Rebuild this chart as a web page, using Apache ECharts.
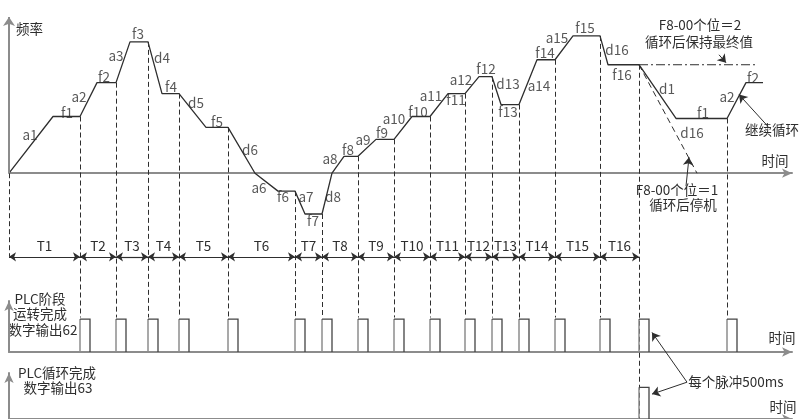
<!DOCTYPE html>
<html><head><meta charset="utf-8">
<script src="https://cdn.jsdelivr.net/npm/echarts@6/dist/echarts.min.js"></script>
<style>html,body{margin:0;padding:0;background:#fff}#c{width:801px;height:419px}</style>
</head><body><div id="c"></div>
<script>
// ---- data (time and frequency in relative units; negative frequency = reverse run) ----
const stageNames    = ['1','2','3','4','5','6','7','8','9','10','11','12','13','14','15','16'];
const stageFreq     = [57, 91, 132, 80, 46, -18, -41, 17, 34, 57, 80, 97, 69, 114, 138, 109];
const plateauStart  = [44, 88, 121, 153, 197, 269, 296, 335, 367, 403, 439, 470, 492, 528, 564, 599];
const stageEnd      = [71, 107, 139, 170, 219, 286, 313, 349, 385, 421, 456, 483, 510, 546, 591, 630];
const zeroCrossStage = [6, 8];
const zeroCrossTime  = [246, 323];
// after one cycle
const contTime = [630, 667, 718, 737, 754];   // F8-00 continue cycling
const contFreq = [109, 55, 55, 91, 91];
const holdTime = [630, 746];                  // F8-00 = 2 hold final value
const holdFreq = [109, 109];
const stopTime = [630, 688];                  // F8-00 = 1 stop after cycle
const stopFreq = [109, 0];
// digital outputs
const pulse62Start = [71, 107, 139, 170, 219, 286, 313, 349, 385, 421, 456, 483, 510, 546, 591, 630, 718];
const pulse63Start = [630];
const pulseWidth = 10; // 500 ms
// segment labels
const segLabels = ['a1','f1','a2','f2','a3','f3','d4','f4','d5','f5','d6','a6','f6','a7','d8','f7','a8','f8','a9','f9','a10','f10','a11','f11','a12','f12','d13','f13','a14','f14','a15','f15','d16','f16','d1','f1','d16','a2','f2'];
const segLabelT   = [21,58,70,95,107,129,153,162,187,208,241,250,274,297,324,304,321,339,354,373,385,409,422,447,452,477,499,499,530,536,548,576,608,613,658,694,683,718,744];
const segLabelF   = [39,61,77,97,118,140,116,87,71,52,23,-15,-24,-24,-24,-48,14,23,33,41,55,62,78,74,94,105,90,62,88,121,136,146,124,99,85,61,41,77,96];

// ---- layout constants ----
const INK = '#2e2e2e', AXIS = '#8c8c8c';
const FONT = '"Noto Sans CJK SC","Noto Sans",sans-serif';
const T_ROW = -84, PULSE_TOP = -145, BOTTOM = -247;

// ---- build ----
const profile = [[0, 0]];
stageFreq.forEach((f, i) => {
  const k = zeroCrossStage.indexOf(i + 1);
  if (k >= 0) profile.push([zeroCrossTime[k], 0]);
  profile.push([plateauStart[i], f]);
  profile.push([stageEnd[i], f]);
});
const zip = (a, b) => a.map((v, i) => [v, b[i]]);

const guides = [[{coord:[0,0]},{coord:[0,T_ROW]}]];
stageEnd.forEach((t, i) => {
  guides.push([{coord:[t, stageFreq[i]]},{coord:[t, i === stageEnd.length-1 ? BOTTOM : PULSE_TOP]}]);
});
guides.push([{coord:[contTime[2], contFreq[2]]},{coord:[contTime[2], PULSE_TOP]}]);

const tRow = stageEnd.map((t, i) => [
  {coord:[i === 0 ? 0 : stageEnd[i-1], T_ROW], name:'T' + stageNames[i]},
  {coord:[t, T_ROW]}
]);

const arrows = [
  [[710,119],[717,111]],
  [[759,47],[730,79]],
  [[677,-13],[680,16]],
  [[678,-210],[643,-160]],
  [[678,-210],[643,-222]]
].map(p => [{coord:p[0]},{coord:p[1]}]);

const baseAxis = {type:'value', axisTick:{show:false}, axisLabel:{show:false}, splitLine:{show:false}};
const arrowLine = {show:true, symbol:['none','arrow'], symbolSize:[7,10], lineStyle:{color:AXIS, width:2}};

const pulseSeries = (grid, starts) => ({
  type:'custom', xAxisIndex:grid, yAxisIndex:grid, silent:true, z:5,
  data: starts.map(s => [s, s + pulseWidth]),
  renderItem: (params, api) => {
    const a = api.value(0), b = api.value(1);
    return {type:'group', children:[
      {type:'polyline', shape:{points:[api.coord([a,0]), api.coord([a,1])]},
        style:{stroke:'#8c8c8c', lineWidth:1.5, fill:null}},
      {type:'polyline', shape:{points:[api.coord([a,1]), api.coord([b,1]), api.coord([b,0])]},
        style:{stroke:'#444', lineWidth:1.3, fill:null}}
    ]};
  }
});

const txt = (text, x, y, align) => ({type:'text', x, y, silent:true,
  style:{text, align: align || 'center', verticalAlign:'middle', fill:INK, font:'13.5px ' + FONT}});

const option = {
  animation:false,
  backgroundColor:'#fff',
  grid:[
    {left:9, top:12, width:783, height:409},
    {left:9, top:301, width:783, height:51},
    {left:9, top:373, width:783, height:48}
  ],
  xAxis:[
    Object.assign({}, baseAxis, {gridIndex:0, min:0, max:783, axisLine:Object.assign({onZero:true}, arrowLine)}),
    Object.assign({}, baseAxis, {gridIndex:1, min:0, max:783, axisLine:arrowLine}),
    Object.assign({}, baseAxis, {gridIndex:2, min:0, max:783, axisLine:arrowLine})
  ],
  yAxis:[
    Object.assign({}, baseAxis, {gridIndex:0, min:BOTTOM, max:162, axisLine:{show:false}}),
    Object.assign({}, baseAxis, {gridIndex:1, min:0, max:1.55, axisLine:arrowLine}),
    Object.assign({}, baseAxis, {gridIndex:2, min:0, max:1.45, axisLine:arrowLine})
  ],
  series:[
    {type:'line', name:'guides', xAxisIndex:0, yAxisIndex:0, data:[], silent:true, z:1,
      markLine:{silent:true, symbol:['none','none'], label:{show:false},
        lineStyle:{color:INK, width:1, type:[5,3]}, emphasis:{disabled:true}, data:guides}},
    {type:'line', name:'freqAxis', xAxisIndex:0, yAxisIndex:0, data:[], silent:true,
      markLine:{silent:true, symbol:['none','arrow'], symbolSize:9, label:{show:false},
        lineStyle:{color:AXIS, width:2, type:'solid'}, emphasis:{disabled:true},
        data:[[{coord:[0,0]},{coord:[0,157]}]]}},
    {type:'line', name:'profile', xAxisIndex:0, yAxisIndex:0, data:profile, symbol:'none', silent:true, z:3,
      lineStyle:{color:INK, width:1.3}},
    {type:'line', name:'continue', xAxisIndex:0, yAxisIndex:0, data:zip(contTime, contFreq), symbol:'none', silent:true, z:3,
      lineStyle:{color:INK, width:1.3}},
    {type:'line', name:'hold', xAxisIndex:0, yAxisIndex:0, data:zip(holdTime, holdFreq), symbol:'none', silent:true, z:3,
      lineStyle:{color:INK, width:1, type:[9,3,2,3]}},
    {type:'line', name:'stop', xAxisIndex:0, yAxisIndex:0, data:zip(stopTime, stopFreq), symbol:'none', silent:true, z:3,
      lineStyle:{color:INK, width:1, type:[6,4]}},
    {type:'line', name:'tRow', xAxisIndex:0, yAxisIndex:0, data:[], silent:true,
      markLine:{silent:true, symbol:['arrow','arrow'], symbolSize:7,
        label:{show:true, position:'middle', formatter:'{b}', color:INK, fontSize:13.5, fontFamily:FONT, distance:4},
        lineStyle:{color:INK, width:1.2, type:'solid'}, emphasis:{disabled:true}, data:tRow}},
    {type:'line', name:'arrows', xAxisIndex:0, yAxisIndex:0, data:[], silent:true,
      markLine:{silent:true, symbol:['none','arrow'], symbolSize:8, label:{show:false},
        lineStyle:{color:INK, width:1, type:'solid'}, emphasis:{disabled:true}, data:arrows}},
    {type:'scatter', name:'labels', xAxisIndex:0, yAxisIndex:0, symbolSize:1, silent:true, z:6,
      itemStyle:{color:'rgba(0,0,0,0)'},
      label:{show:true, position:'inside', formatter:'{b}', color:INK, fontSize:13.5, fontFamily:FONT},
      data: segLabels.map((n, i) => ({name:n, value:[segLabelT[i], segLabelF[i]]}))},
    pulseSeries(1, pulse62Start),
    pulseSeries(2, pulse63Start)
  ],
  graphic:[
    txt('频率', 16, 29, 'left'),
    txt('时间', 775, 161),
    txt('F8-00个位＝2', 700, 25),
    txt('循环后保持最终值', 699, 42),
    txt('继续循环', 772, 130),
    txt('F8-00个位＝1', 677, 190),
    txt('循环后停机', 683, 205),
    txt('PLC阶段', 40, 299),
    txt('运转完成', 40, 314),
    txt('数字输出62', 43, 330),
    txt('PLC循环完成', 57, 373),
    txt('数字输出63', 58, 388),
    txt('每个脉冲500ms', 736, 382),
    txt('时间', 782, 338),
    txt('时间', 783, 407)
  ]
};
const chart = echarts.init(document.getElementById('c'));
chart.setOption(option);
</script></body></html>
